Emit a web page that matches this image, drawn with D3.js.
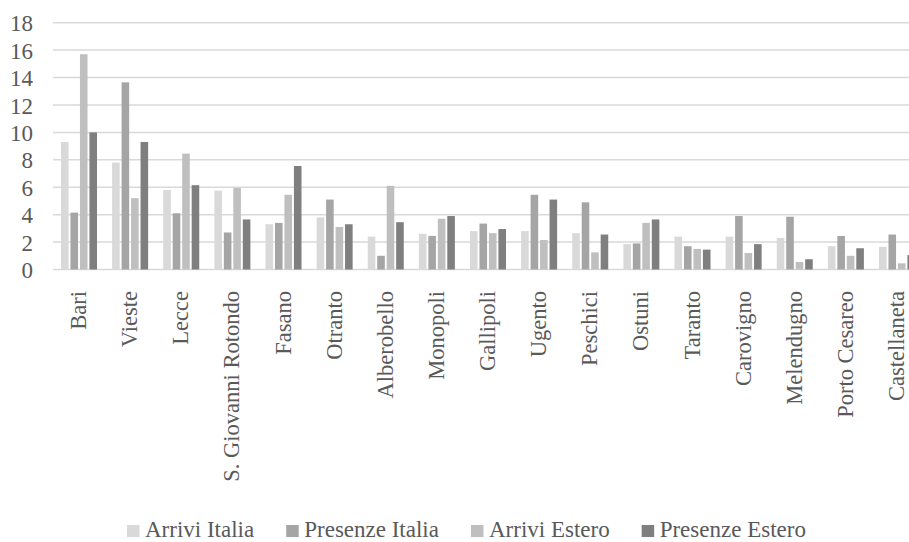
<!DOCTYPE html>
<html>
<head>
<meta charset="utf-8">
<script src="https://cdn.jsdelivr.net/npm/d3@7"></script>
<style>
  html, body { margin: 0; padding: 0; background: #fff; }
  svg { display: block; }
</style>
</head>
<body>
<svg id="chart" width="909" height="542"></svg>
<script>
// Località (asse delle categorie)
const categories = [
  "Bari", "Vieste", "Lecce", "S. Giovanni Rotondo", "Fasano", "Otranto",
  "Alberobello", "Monopoli", "Gallipoli", "Ugento", "Peschici", "Ostuni",
  "Taranto", "Carovigno", "Melendugno", "Porto Cesareo", "Castellaneta"
];

// Serie
const seriesNames = ["Arrivi Italia", "Presenze Italia", "Arrivi Estero", "Presenze Estero"];
const arriviItalia   = [9.3, 7.8, 5.8, 5.75, 3.3, 3.8, 2.4, 2.6, 2.8, 2.8, 2.65, 1.85, 2.4, 2.4, 2.3, 1.7, 1.65];
const presenzeItalia = [4.15, 13.65, 4.1, 2.7, 3.4, 5.1, 1.0, 2.45, 3.35, 5.45, 4.9, 1.9, 1.7, 3.9, 3.85, 2.45, 2.55];
const arriviEstero   = [15.7, 5.2, 8.45, 5.95, 5.45, 3.1, 6.1, 3.7, 2.65, 2.15, 1.25, 3.4, 1.5, 1.2, 0.55, 1.0, 0.45];
const presenzeEstero = [10.0, 9.3, 6.15, 3.65, 7.55, 3.3, 3.45, 3.9, 2.95, 5.1, 2.55, 3.65, 1.45, 1.85, 0.75, 1.55, 1.05];
const seriesColors = ["#d9d9d9", "#a5a5a5", "#bfbfbf", "#7f7f7f"];

// Valori dell'asse Y
const yTicks = [0, 2, 4, 6, 8, 10, 12, 14, 16, 18];

const FONT = "Liberation Serif";
const TEXT_COLOR = "#595959";

const seriesValues = [arriviItalia, presenzeItalia, arriviEstero, presenzeEstero];
const rows = categories.map((c, i) => ({
  name: c,
  values: seriesNames.map((s, k) => ({ key: s, value: seriesValues[k][i] }))
}));

const svg = d3.select("#chart");

const x0 = d3.scaleBand().domain(categories).range([53, 53 + 17 * 51.125]).paddingInner(0).paddingOuter(0);
const x1 = d3.scaleBand().domain(seriesNames).range([8, 44]).paddingInner(0.2).paddingOuter(0);
const y = d3.scaleLinear().domain([0, 18]).range([269.5, 22.7]);
const color = d3.scaleOrdinal().domain(seriesNames).range(seriesColors);

// Griglia orizzontale
svg.append("g")
  .selectAll("line")
  .data(yTicks)
  .join("line")
  .attr("x1", 53)
  .attr("x2", 909)
  .attr("y1", d => y(d))
  .attr("y2", d => y(d))
  .attr("stroke", "#d9d9d9")
  .attr("stroke-width", 1.5);

// Etichette asse Y
const yAxis = d3.axisLeft(y).tickValues(yTicks).tickSize(0).tickPadding(0);
const yg = svg.append("g").attr("transform", "translate(33,0)").call(yAxis)
  .attr("font-family", FONT).attr("font-size", 23);
yg.select(".domain").remove();
yg.selectAll("text")
  .attr("font-family", FONT)
  .attr("font-size", 23)
  .attr("fill", TEXT_COLOR)
  .attr("dy", "0.35em");

// Barre
svg.append("g")
  .selectAll("g")
  .data(rows)
  .join("g")
  .attr("transform", d => `translate(${x0(d.name)},0)`)
  .selectAll("rect")
  .data(d => d.values)
  .join("rect")
  .attr("x", d => x1(d.key))
  .attr("width", x1.bandwidth())
  .attr("y", d => y(d.value))
  .attr("height", d => y(0) - y(d.value))
  .attr("fill", d => color(d.key));

// Etichette categorie (ruotate)
const xAxis = d3.axisBottom(x0).tickSize(0).tickPadding(0);
const xg = svg.append("g").attr("transform", "translate(0,291)").call(xAxis)
  .attr("font-family", FONT).attr("font-size", 22.5);
xg.select(".domain").remove();
xg.selectAll("text")
  .attr("font-family", FONT)
  .attr("font-size", 22.5)
  .attr("fill", TEXT_COLOR)
  .attr("transform", "rotate(-90)")
  .attr("text-anchor", "end")
  .attr("x", 0)
  .attr("y", 0)
  .attr("dy", "0.33em");

// Legenda
const legend = svg.append("g").attr("transform", "translate(127,0)");
let lx = 0;
seriesNames.forEach((s, i) => {
  const item = legend.append("g").attr("transform", `translate(${lx},0)`);
  item.append("rect")
    .attr("x", 0).attr("y", 525)
    .attr("width", 12.5).attr("height", 12)
    .attr("fill", seriesColors[i]);
  const t = item.append("text")
    .attr("x", 18).attr("y", 537)
    .attr("font-family", FONT)
    .attr("font-size", 23)
    .attr("fill", TEXT_COLOR)
    .text(s);
  lx += 18 + t.node().getComputedTextLength() + 32;
});
</script>
</body>
</html>
